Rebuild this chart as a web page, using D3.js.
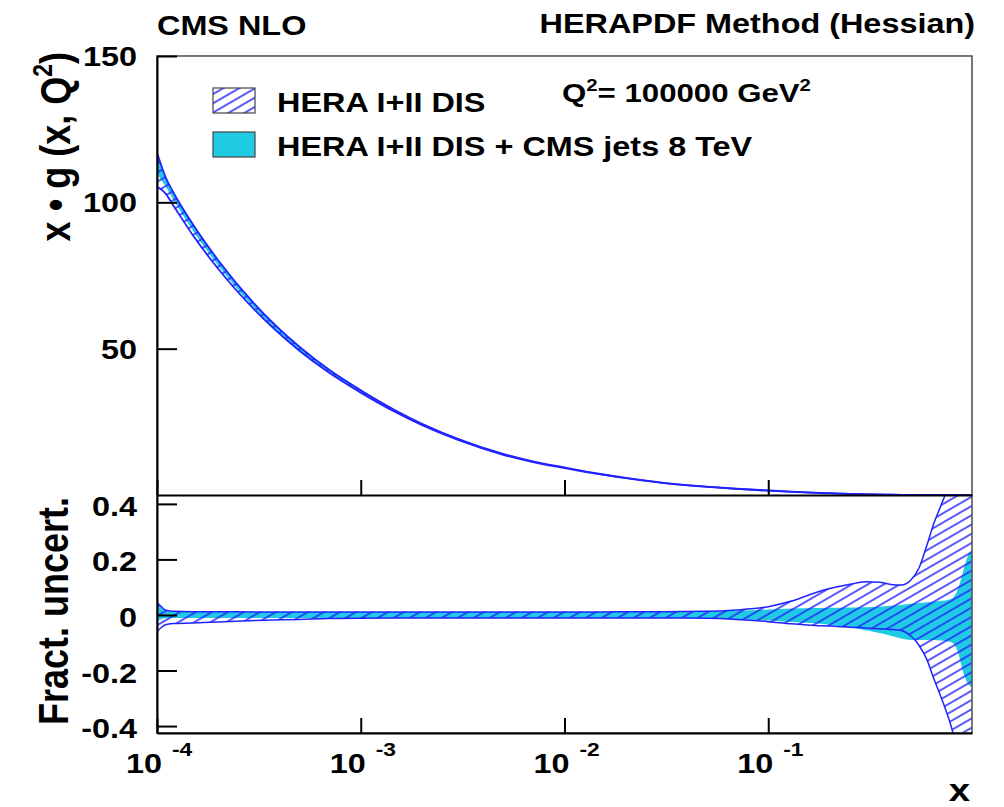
<!DOCTYPE html>
<html><head><meta charset="utf-8">
<script src="https://cdn.jsdelivr.net/npm/d3@7"></script>
<style>
body{margin:0;background:#fff}
svg{display:block}
text{font-family:"Liberation Sans",Arial,Helvetica,sans-serif;font-weight:bold;fill:#000}
</style>
</head><body>
<svg id="c" width="1004" height="807"></svg>
<script>
// ---------------- data ----------------
const xValues   = [1e-4,1.05e-4,1.1e-4,1.2e-4,1.5e-4,2e-4,3e-4,5e-4,7e-4,1e-3,1.5e-3,2e-3,3e-3,5e-3,7e-3,1e-2,1.5e-2,2e-2,3e-2,5e-2,7e-2,0.1,0.13,0.17,0.2,0.25,0.3,0.35,0.4,0.45,0.5,0.55,0.6,0.65,0.7,0.75,0.8,0.85,0.9,0.95,1.0];
const xgCentral = [112,109.3,106.8,102.2,91.4,79.2,64.7,50.1,42.3,35.4,28.4,24.1,19.0,13.9,11.4,9.3,7.1,5.8,4.2,2.8,2.1,1.5,1.1,0.75,0.57,0.37,0.24,0.16,0.10,0.065,0.04,0.025,0.015,0.009,0.005,0.003,0.0015,0.0006,0.0002,0.00003,0];
// HERA I+II DIS fractional uncertainty (hatched)
const heraUp = [0.045,0.03,0.018,0.013,0.012,0.012,0.011,0.011,0.011,0.011,0.011,0.011,0.011,0.011,0.011,0.011,0.011,0.012,0.012,0.013,0.018,0.03,0.05,0.08,0.095,0.11,0.12,0.118,0.11,0.108,0.125,0.17,0.25,0.33,0.39,0.45,0.55,0.7,0.9,1.1,1.4];
const heraDn = [-0.06,-0.045,-0.035,-0.031,-0.029,-0.025,-0.02,-0.016,-0.013,-0.012,-0.011,-0.011,-0.011,-0.011,-0.011,-0.011,-0.011,-0.011,-0.011,-0.012,-0.016,-0.024,-0.032,-0.038,-0.04,-0.044,-0.047,-0.05,-0.052,-0.056,-0.075,-0.11,-0.16,-0.23,-0.29,-0.35,-0.415,-0.5,-0.6,-0.7,-0.8];
// HERA I+II DIS + CMS jets 8 TeV fractional uncertainty (cyan)
const cmsUp = [0.04,0.025,0.014,0.011,0.011,0.011,0.011,0.011,0.011,0.011,0.011,0.011,0.011,0.011,0.011,0.011,0.011,0.011,0.011,0.012,0.015,0.02,0.023,0.025,0.026,0.027,0.028,0.03,0.033,0.036,0.04,0.043,0.046,0.048,0.05,0.053,0.06,0.09,0.15,0.21,0.235];
const cmsDn = [-0.02,-0.015,-0.012,-0.011,-0.011,-0.011,-0.011,-0.011,-0.011,-0.011,-0.011,-0.011,-0.011,-0.011,-0.011,-0.011,-0.011,-0.011,-0.011,-0.012,-0.015,-0.02,-0.025,-0.03,-0.035,-0.045,-0.055,-0.065,-0.075,-0.085,-0.09,-0.09,-0.09,-0.09,-0.092,-0.095,-0.1,-0.13,-0.2,-0.245,-0.26];
const legendLabels = ["HERA I+II DIS","HERA I+II DIS + CMS jets 8 TeV"];
const xTickExps = [-4,-3,-2,-1];
const yTopTickLabels = [50,100,150];
const yBotTickLabels = [-0.4,-0.2,0,0.2,0.4];

// ---------------- layout ----------------
const L = 157, R = 972, T = 56, MID = 495, B = 733;
const SX = 1.2; // horizontal stretch of the text in the picture
const BLUE = "#2222ff", CYAN = "#1fcbe3";

const svg = d3.select("#c");
const defs = svg.append("defs");
const pat = defs.append("pattern").attr("id","hatch").attr("patternUnits","userSpaceOnUse")
  .attr("width",8).attr("height",8).attr("patternTransform","rotate(-30)");
pat.append("line").attr("x1",-1).attr("x2",9).attr("y1",4).attr("y2",4).attr("stroke",BLUE).attr("stroke-width",1.5);
defs.append("clipPath").attr("id","clipTop").append("rect").attr("x",L).attr("y",T).attr("width",R-L).attr("height",MID-T);
defs.append("clipPath").attr("id","clipBot").append("rect").attr("x",L).attr("y",MID).attr("width",R-L).attr("height",B-MID);

const x = d3.scaleLog().domain([1e-4,1]).range([L,R]);
const yTop = d3.scaleLinear().domain([0,150]).range([MID,T]);
const yBot = d3.scaleLinear().domain([-0.425,0.432]).range([B,MID]);

function txt(parent, px, py, s, size, anchor){
  return parent.append("text").attr("transform",`translate(${px},${py}) scale(${SX},1)`)
    .attr("font-size",size).attr("text-anchor",anchor||"start").text(s);
}

const rows = xValues.map((xv,i)=>({x:xv, c:xgCentral[i], hu:heraUp[i], hd:heraDn[i], cu:cmsUp[i], cd:cmsDn[i]}));

// ---------------- upper panel ----------------
const gTop = svg.append("g").attr("clip-path","url(#clipTop)");
const curve = d3.curveMonotoneX;
gTop.append("path").datum(rows).attr("fill",CYAN)
  .attr("d", d3.area().x(d=>x(d.x)).y0(d=>yTop(d.c*(1+d.cd))).y1(d=>yTop(d.c*(1+d.cu))).curve(curve));
gTop.append("path").datum(rows).attr("fill","url(#hatch)")
  .attr("d", d3.area().x(d=>x(d.x)).y0(d=>yTop(d.c*(1+d.hd))).y1(d=>yTop(d.c*(1+d.hu))).curve(curve));
[d=>d.hu, d=>d.hd].forEach(f=>{
  gTop.append("path").datum(rows).attr("fill","none").attr("stroke",BLUE).attr("stroke-width",1.8)
    .attr("d", d3.line().x(d=>x(d.x)).y(d=>yTop(d.c*(1+f(d)))).curve(curve));
});

// ---------------- lower panel ----------------
const gBot = svg.append("g").attr("clip-path","url(#clipBot)");
gBot.append("path").datum(rows).attr("fill",CYAN)
  .attr("d", d3.area().x(d=>x(d.x)).y0(d=>yBot(d.cd)).y1(d=>yBot(d.cu)).curve(curve));
gBot.append("path").datum(rows).attr("fill","url(#hatch)")
  .attr("d", d3.area().x(d=>x(d.x)).y0(d=>yBot(d.hd)).y1(d=>yBot(d.hu)).curve(curve));
[d=>d.hu, d=>d.hd].forEach(f=>{
  gBot.append("path").datum(rows).attr("fill","none").attr("stroke",BLUE).attr("stroke-width",1.5)
    .attr("d", d3.line().x(d=>x(d.x)).y(d=>yBot(f(d))).curve(curve));
});

// ---------------- frames ----------------
svg.append("rect").attr("x",L).attr("y",T).attr("width",R-L).attr("height",B-T)
  .attr("fill","none").attr("stroke","#555").attr("stroke-width",1.6);

// x ticks (minor + major), pointing up
const majorX = xTickExps.map(e=>Math.pow(10,e));
const minorX = [];
for (let e=-4;e<0;e++) for (let m=2;m<=9;m++) minorX.push(m*Math.pow(10,e));
[MID,B].forEach(yy=>{
  const g = svg.append("g").attr("transform",`translate(0,${yy})`);
  g.call(d3.axisTop(x).tickValues(minorX).tickSize(8).tickSizeOuter(0).tickFormat(""));
  g.call(d3.axisTop(x).tickValues(majorX).tickSize(15).tickSizeOuter(0).tickFormat(""));
  g.selectAll("line").attr("stroke","#000").attr("stroke-width",2);
  g.selectAll(".domain").attr("stroke","#000").attr("stroke-width",2);
});

// y ticks upper
{
  const g = svg.append("g").attr("transform",`translate(${L},0)`);
  g.call(d3.axisRight(yTop).tickValues(d3.range(10,151,10)).tickSize(10).tickSizeOuter(0).tickFormat(""));
  g.call(d3.axisRight(yTop).tickValues([50,100,150]).tickSize(20).tickSizeOuter(0).tickFormat(""));
  g.selectAll("line").attr("stroke","#000").attr("stroke-width",2);
  g.selectAll(".domain").attr("stroke","#000").attr("stroke-width",2);
}
// y ticks lower
{
  const g = svg.append("g").attr("transform",`translate(${L},0)`);
  const minors = d3.range(-8,9).map(k=>k*0.05);
  g.call(d3.axisRight(yBot).tickValues(minors).tickSize(10).tickSizeOuter(0).tickFormat(""));
  g.call(d3.axisRight(yBot).tickValues(yBotTickLabels).tickSize(20).tickSizeOuter(0).tickFormat(""));
  g.selectAll("line").attr("stroke","#000").attr("stroke-width",2);
  g.selectAll(".domain").attr("stroke","#000").attr("stroke-width",2);
}

// ---------------- tick labels ----------------
yTopTickLabels.forEach(v=>txt(svg,137,yTop(v)+10,String(v),27,"end"));
yBotTickLabels.forEach(v=>txt(svg,137,yBot(v)+12,v===0?"0":String(v),27,"end"));
xTickExps.forEach(e=>{
  const px = x(Math.pow(10,e));
  txt(svg,px+5,773,"10",27,"end");
  txt(svg,px+15,756,String(e),19,"start");
});

// ---------------- titles ----------------
txt(svg,157,35,"CMS NLO",27,"start");
txt(svg,975,33,"HERAPDF Method (Hessian)",27,"end");
{
  const t = txt(svg,562,102,"",26,"start");
  t.append("tspan").text("Q");
  t.append("tspan").attr("font-size",17).attr("dy",-11).text("2");
  t.append("tspan").attr("dy",11).text("= 100000 GeV");
  t.append("tspan").attr("font-size",17).attr("dy",-11).text("2");
}
txt(svg,970,801,"x",32,"end");
{
  const t = svg.append("text").attr("transform",`translate(70,52) scale(${SX},1) rotate(-90)`)
    .attr("font-size",36).attr("text-anchor","end");
  t.append("tspan").text("x \u2022 g (x, Q");
  t.append("tspan").attr("font-size",23).attr("dy",-15).text("2");
  t.append("tspan").attr("dy",15).text(")");
}
svg.append("text").attr("transform",`translate(68,497) scale(${SX},1) rotate(-90)`)
  .attr("font-size",36).attr("text-anchor","end").text("Fract. uncert.");

// ---------------- legend ----------------
svg.append("rect").attr("x",213).attr("y",88).attr("width",42).attr("height",25)
  .attr("fill","url(#hatch)").attr("stroke","#444").attr("stroke-width",1.2);
svg.append("rect").attr("x",213).attr("y",132).attr("width",42).attr("height",25)
  .attr("fill",CYAN).attr("stroke","#444").attr("stroke-width",1.2);
txt(svg,277,112,legendLabels[0],27,"start");
txt(svg,277,156,legendLabels[1],27,"start");
</script>
</body></html>
